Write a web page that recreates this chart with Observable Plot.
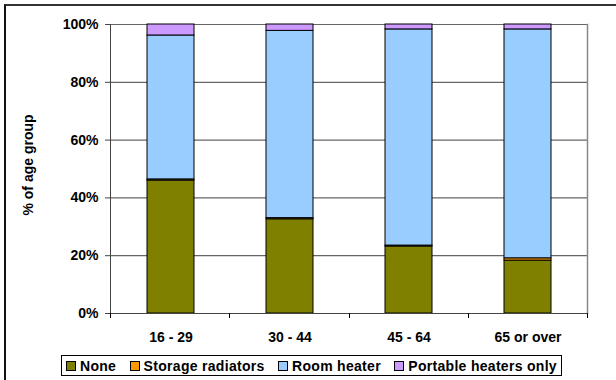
<!DOCTYPE html>
<html>
<head>
<meta charset="utf-8">
<script src="https://cdn.jsdelivr.net/npm/d3@7"></script>
<script src="https://cdn.jsdelivr.net/npm/@observablehq/plot@0.6"></script>
<style>
  html, body { margin: 0; padding: 0; background: #fff; }
  #wrap { position: relative; width: 616px; height: 380px; overflow: hidden; font-family: "Liberation Sans", Arial, sans-serif; }
  #frame { position: absolute; left: 4px; top: 4px; width: 630px; height: 400px; border-left: 2px solid #111; border-top: 2px solid #333; box-sizing: border-box; }
  #legend { position: absolute; left: 61px; top: 355px; width: 501px; height: 21px; border: 1px solid #000; box-sizing: border-box; padding: 0 4px;
            display: flex; align-items: center; justify-content: space-between; font-weight: bold; font-size: 14px; letter-spacing: 0.3px; color: #000; background: #fff; }
  .item { display: flex; align-items: center; white-space: nowrap; }
  .sw { width: 8px; height: 8px; border: 1px solid #000; margin-right: 4px; }
</style>
</head>
<body>
<div id="wrap"><div id="frame"></div></div>
<script>
const categories = ["16 - 29", "30 - 44", "45 - 64", "65 or over"];
const seriesNames = ["None", "Storage radiators", "Room heater", "Portable heaters only"];
const seriesColors = ["#808000", "#FF9900", "#99CCFF", "#CC99FF"];
const noneVals = [46.0, 32.6, 23.2, 18.3];
const storageVals = [0.4, 0.4, 0.3, 0.8];
const roomVals = [49.8, 64.8, 74.8, 79.2];
const portableVals = [3.8, 2.2, 1.7, 1.7];
const yTicks = [0, 20, 40, 60, 80, 100];
const yLabel = "% of age group";

const seriesValues = [noneVals, storageVals, roomVals, portableVals];
const rows = [];
seriesNames.forEach((s, si) => categories.forEach((c, ci) => rows.push({cat: c, series: s, value: seriesValues[si][ci]})));

const font = "bold 14px 'Liberation Sans', Arial, sans-serif";

// tick marks at category boundaries, drawn from the frame dimensions
function boundaryTicks(index, scales, values, dims) {
  const g = d3.create("svg:g");
  const n = categories.length;
  const x0 = dims.marginLeft, x1 = dims.width - dims.marginRight;
  const yb = dims.height - dims.marginBottom;
  for (let i = 0; i <= n; i++) {
    const x = Math.round(x0 + (x1 - x0) * i / n) + 0.5;
    g.append("line").attr("x1", x).attr("x2", x).attr("y1", yb).attr("y2", yb + 5).attr("stroke", "#000");
  }
  return g.node();
}

const chart = Plot.plot({
  width: 616,
  height: 380,
  marginLeft: 110,
  marginRight: 29,
  marginTop: 24,
  marginBottom: 67,
  style: {font, background: "transparent", overflow: "visible"},
  x: {domain: categories, paddingInner: 0.606, paddingOuter: 0.303, label: null},
  y: {domain: [0, 100], label: null},
  color: {domain: seriesNames, range: seriesColors},
  marks: [
    Plot.ruleY(yTicks.filter(d => d > 0), {stroke: "#666", strokeWidth: 1.2}),
    Plot.frame({anchor: "right", stroke: "#888", strokeWidth: 1.5}),
    Plot.barY(rows, Plot.stackY({x: "cat", y: "value", fill: "series", order: seriesNames, stroke: "#000", strokeWidth: 1})),
    Plot.frame({anchor: "left", stroke: "#444", strokeWidth: 1}),
    Plot.frame({anchor: "bottom", stroke: "#444", strokeWidth: 1}),
    Plot.axisY({ticks: yTicks, tickSize: 5, tickPadding: 7, tickFormat: d => d + "%", label: null, stroke: "#444", fill: "#000"}),
    Plot.axisX({tickSize: 0, tickPadding: 19, label: null, fill: "#000"}),
    boundaryTicks,
    Plot.text([yLabel], {frameAnchor: "left", dx: -82, dy: -4, rotate: -90, textAnchor: "middle", text: d => d, fill: "#000", fontWeight: "bold", fontSize: 14})
  ]
});
chart.style.position = "absolute";
chart.style.left = "0px";
chart.style.top = "0px";
const wrap = document.getElementById("wrap");
wrap.appendChild(chart);

const legend = document.createElement("div");
legend.id = "legend";
seriesNames.forEach((s, i) => {
  const it = document.createElement("div");
  it.className = "item";
  const sw = document.createElement("div");
  sw.className = "sw";
  sw.style.background = seriesColors[i];
  const t = document.createElement("span");
  t.textContent = s;
  it.appendChild(sw); it.appendChild(t);
  legend.appendChild(it);
});
wrap.appendChild(legend);
</script>
</body>
</html>
